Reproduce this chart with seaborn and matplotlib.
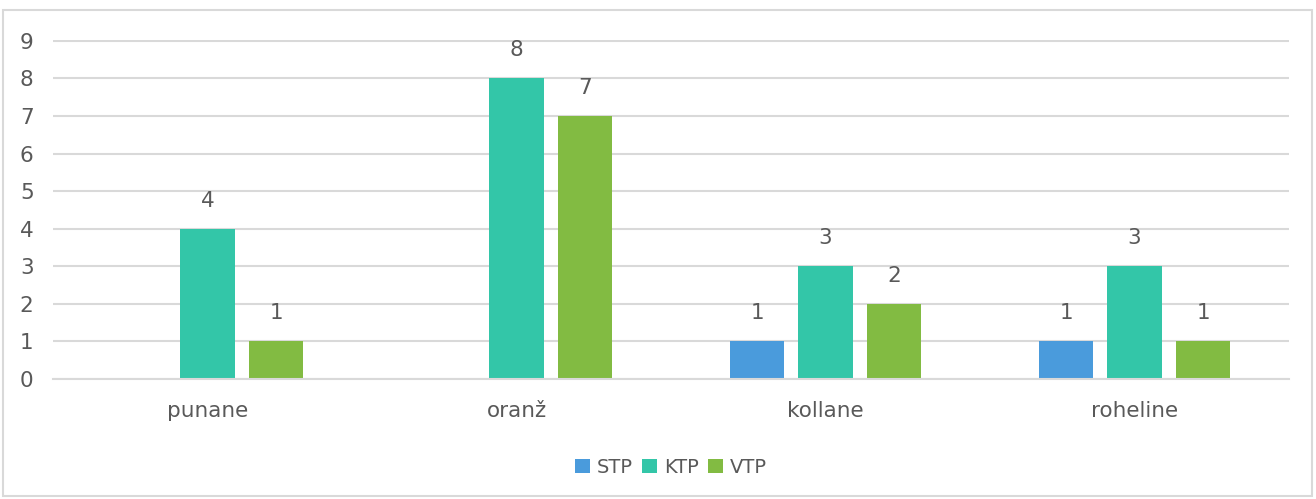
import pandas as pd
import matplotlib.pyplot as plt
import matplotlib.patches as patches
import seaborn as sns

# chart values
categories = ['punane', 'oranž', 'kollane', 'roheline']
series = ['STP', 'KTP', 'VTP']
stp = [0, 0, 1, 1]
ktp = [4, 8, 3, 3]
vtp = [1, 7, 2, 1]
colors = ['#4A9BDC', '#33C6A8', '#82BB42']

df = pd.DataFrame({
    'kategooria': categories * 3,
    'rühm': [s for s in series for _ in categories],
    'väärtus': stp + ktp + vtp,
})

sns.set_style('white')
plt.rcParams['font.family'] = ['DejaVu Sans']
text_color = '#595959'
grid_color = '#D9D9D9'

fig = plt.figure(figsize=(13.16, 4.99), dpi=100)
ax = fig.add_axes([0.0403, 0.2405, 0.9392, 0.6793])

sns.barplot(data=df, x='kategooria', y='väärtus', hue='rühm', order=categories,
            hue_order=series, palette=colors, width=0.665, gap=0.21,
            saturation=1, linewidth=0, ax=ax, legend=True)

# data labels, zeros are not shown
for cont in ax.containers:
    labels = [f'{v:g}' if v > 0 else '' for v in cont.datavalues]
    ax.bar_label(cont, labels=labels, padding=13, fontsize=15.5, color=text_color)

ax.set_ylim(0, 9.02)
ax.set_xlim(-0.5, 3.5)
ax.set_yticks(range(10))
ax.yaxis.grid(True, color=grid_color, linewidth=1.5)
ax.set_axisbelow(True)
for side in ['left', 'right', 'top']:
    ax.spines[side].set_visible(False)
ax.spines['bottom'].set_color(grid_color)
ax.spines['bottom'].set_linewidth(1.5)
ax.tick_params(axis='both', length=0, labelsize=15.5, colors=text_color)
ax.tick_params(axis='y', pad=14)
ax.tick_params(axis='x', pad=16)
ax.set_xlabel('')
ax.set_ylabel('')

leg = ax.legend(loc='center', bbox_to_anchor=(0.5, -0.26), ncol=3, frameon=False,
                fontsize=14, handlelength=0.75, handleheight=0.75, handletextpad=0.35,
                columnspacing=0.5)
for t in leg.get_texts():
    t.set_color(text_color)

# chart area border
fig.patches.append(patches.Rectangle((3 / 1316, 3 / 499), 1309 / 1316, 486 / 499,
                                     transform=fig.transFigure, fill=False,
                                     edgecolor=grid_color, linewidth=1.5))

fig.savefig('out.png', dpi=100)
